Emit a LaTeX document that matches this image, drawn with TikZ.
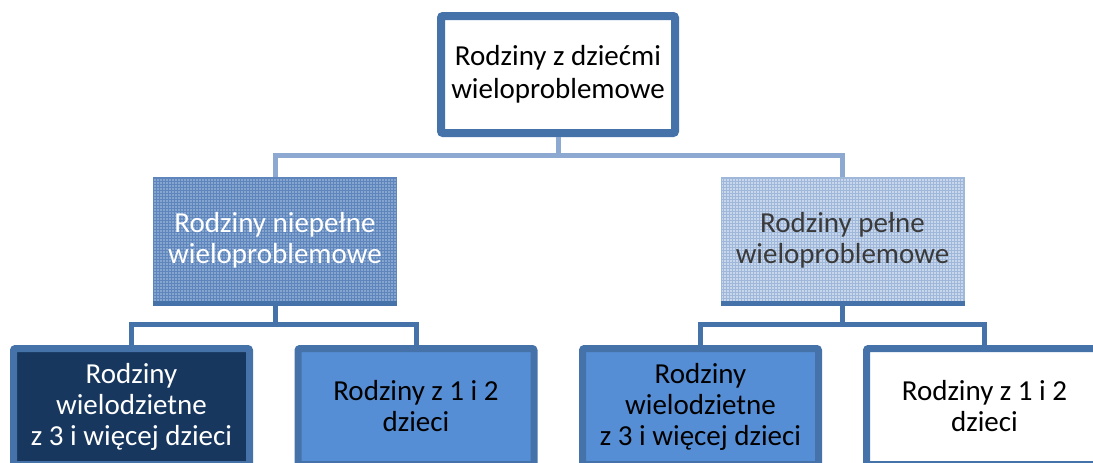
\documentclass[tikz,border=0pt]{standalone}
\usepackage{fontspec}
\setmainfont{Carlito}
\usepackage{tikz}
\usetikzlibrary{patterns}
\definecolor{frame}{HTML}{4672AA}
\definecolor{navy}{HTML}{17375E}
\definecolor{midblue}{HTML}{558ED5}
\definecolor{hatchA}{HTML}{86A5CF}
\definecolor{hatchAline}{HTML}{5F86BC}
\definecolor{hatchB}{HTML}{C8D7EC}
\definecolor{hatchBline}{HTML}{9FB8DA}
\definecolor{busline}{HTML}{8EA9D1}
\definecolor{graytext}{HTML}{3A3A3A}
\tikzset{
  topbox/.style={draw=frame, line width=8pt, fill=white, rounded corners=2pt,
    minimum width=234pt, minimum height=117pt, inner sep=0pt, align=center,
    font=\fontsize{29}{33}\selectfont},
  midbox/.style={draw=#1, line width=1pt, minimum width=243pt, minimum height=125pt,
    inner sep=0pt, align=center, font=\fontsize{29}{31}\selectfont},
  lowbox/.style={draw=frame, line width=7pt, rounded corners=2pt,
    minimum width=236pt, minimum height=116pt, inner sep=0pt, align=center,
    font=\fontsize{29}{31}\selectfont},
  busT/.style={draw=busline, line width=5pt},
  busB/.style={draw=frame, line width=5pt},
  edgeline/.style={draw=frame, line width=5pt}
}
\begin{document}
\begin{tikzpicture}[x=1pt, y=-1pt]
  \useasboundingbox (0,0) rectangle (1093,463);
  \clip (0,0) rectangle (1093,463);
  % top level
  \node[topbox] (root) at (558,74.5) {Rodziny z dziećmi\\wieloproblemowe};
  % second level
  \node[midbox=hatchAline, fill=hatchA, postaction={pattern=grid, pattern color=hatchAline},
    text=white] (incomplete) at (275,240) {Rodziny niepełne\\wieloproblemowe};
  \node[midbox=hatchBline, fill=hatchB, postaction={pattern=grid, pattern color=hatchBline},
    text=graytext] (complete) at (842.5,240) {Rodziny pełne\\wieloproblemowe};
  \draw[edgeline] (incomplete.south west) -- (incomplete.south east);
  \draw[edgeline] (complete.south west) -- (complete.south east);
  % third level
  \node[lowbox, fill=navy, text=white] (manyA) at (131.5,406.5) {Rodziny\\wielodzietne\\z 3 i więcej dzieci};
  \node[lowbox, fill=midblue] (fewA) at (416,406.5) {Rodziny z 1 i 2\\dzieci};
  \node[lowbox, fill=midblue] (manyB) at (700.5,406.5) {Rodziny\\wielodzietne\\z 3 i więcej dzieci};
  \node[lowbox, fill=white] (fewB) at (984.5,406.5) {Rodziny z 1 i 2\\dzieci};
  % buses
  \coordinate (busRoot) at (558,155);
  \coordinate (busInc) at (275,324);
  \coordinate (busCom) at (842.5,324);
  \draw[busT] (root.south) -- (busRoot);
  \draw[busT] (incomplete.north) |- (busRoot) -| (complete.north);
  \draw[busB] (incomplete.south) -- (busInc);
  \draw[busB] (manyA.north) |- (busInc) -| (fewA.north);
  \draw[busB] (complete.south) -- (busCom);
  \draw[busB] (manyB.north) |- (busCom) -| (fewB.north);
\end{tikzpicture}
\end{document}
